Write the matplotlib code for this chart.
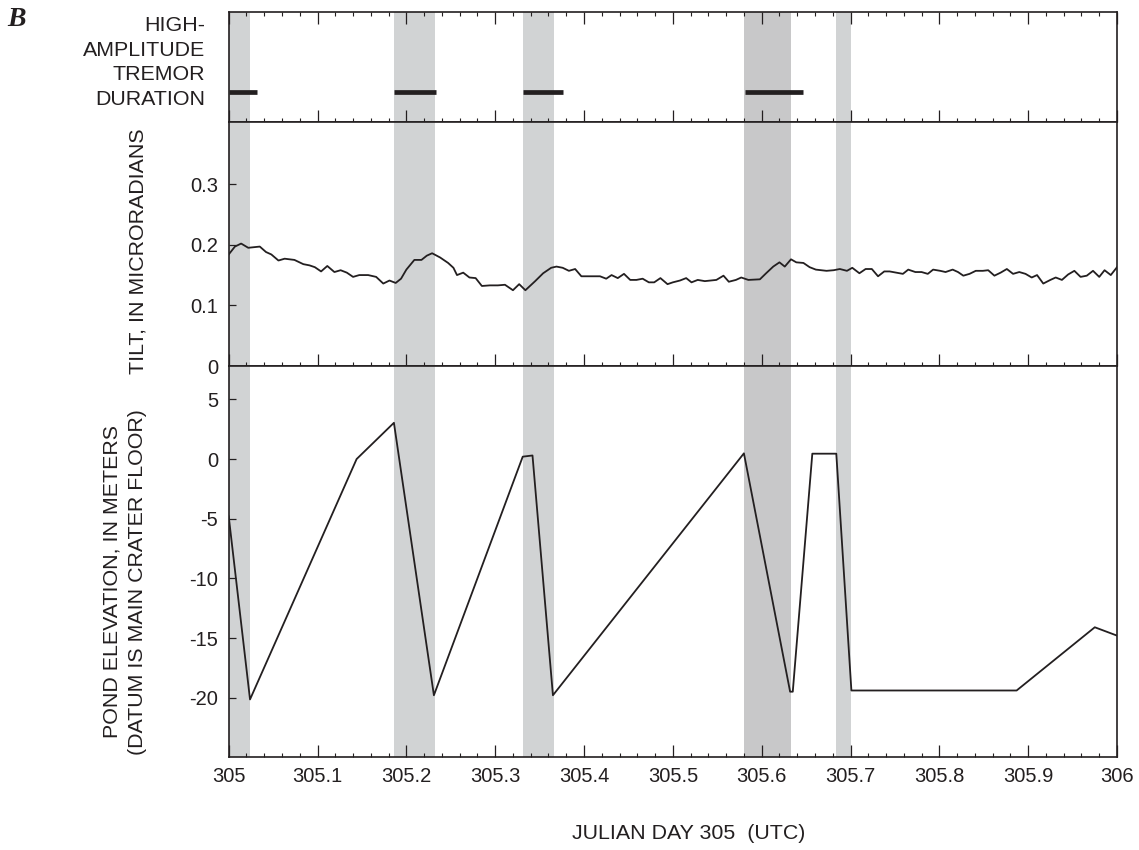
import matplotlib
matplotlib.use('Agg')
import matplotlib.pyplot as plt
from matplotlib.ticker import MultipleLocator

plt.rcParams['font.family'] = ['Liberation Sans', 'DejaVu Sans']
plt.rcParams['axes.unicode_minus'] = False

INK = '#231f20'

# gray bands (eruption episodes), julian day
band_start = [305.0, 305.186, 305.331, 305.580, 305.684]
band_end = [305.0245, 305.232, 305.366, 305.633, 305.701]
band_color = ['#d1d3d4', '#d1d3d4', '#d1d3d4', '#c8c8c9', '#d1d3d4']

# high-amplitude tremor duration bars
tremor_start = [305.0, 305.186, 305.331, 305.581]
tremor_end = [305.032, 305.233, 305.376, 305.647]

# tilt, microradians
tilt_day = [
    305.000, 305.007, 305.014, 305.022, 305.035, 305.042, 305.048, 305.056, 305.063, 305.074,
    305.084, 305.091, 305.097, 305.104, 305.111, 305.119, 305.126, 305.133, 305.140, 305.147,
    305.157, 305.166, 305.174, 305.181, 305.188, 305.194, 305.200, 305.209, 305.217, 305.223,
    305.229, 305.238, 305.247, 305.253, 305.257, 305.264, 305.271, 305.278, 305.285, 305.294,
    305.303, 305.311, 305.320, 305.327, 305.334, 305.345, 305.354, 305.363, 305.369, 305.376,
    305.383, 305.390, 305.397, 305.407, 305.418, 305.425, 305.431, 305.438, 305.445, 305.452,
    305.459, 305.466, 305.473, 305.479, 305.486, 305.494, 305.500, 305.508, 305.515, 305.521,
    305.528, 305.536, 305.549, 305.557, 305.563, 305.571, 305.577, 305.585, 305.598, 305.605,
    305.613, 305.620, 305.626, 305.633, 305.639, 305.647, 305.654, 305.661, 305.673, 305.681,
    305.688, 305.696, 305.702, 305.710, 305.717, 305.724, 305.731, 305.738, 305.744, 305.759,
    305.765, 305.773, 305.780, 305.787, 305.793, 305.801, 305.807, 305.815, 305.821, 305.827,
    305.834, 305.841, 305.849, 305.855, 305.862, 305.869, 305.876, 305.883, 305.890, 305.897,
    305.904, 305.910, 305.917, 305.925, 305.931, 305.938, 305.945, 305.952, 305.959, 305.966,
    305.973, 305.980, 305.986, 305.993, 306.000,
]
tilt_val = [
    0.184, 0.197, 0.202, 0.195, 0.197, 0.188, 0.184, 0.174, 0.177, 0.175,
    0.168, 0.166, 0.163, 0.156, 0.165, 0.155, 0.158, 0.154, 0.147, 0.150,
    0.150, 0.147, 0.136, 0.141, 0.137, 0.144, 0.159, 0.175, 0.175, 0.182,
    0.186, 0.179, 0.170, 0.162, 0.150, 0.154, 0.146, 0.145, 0.132, 0.133,
    0.133, 0.134, 0.125, 0.135, 0.125, 0.140, 0.153, 0.162, 0.164, 0.162,
    0.157, 0.160, 0.148, 0.148, 0.148, 0.144, 0.150, 0.145, 0.152, 0.142,
    0.142, 0.144, 0.138, 0.138, 0.145, 0.135, 0.138, 0.141, 0.145, 0.138,
    0.142, 0.140, 0.142, 0.149, 0.139, 0.142, 0.146, 0.142, 0.143, 0.153,
    0.164, 0.171, 0.164, 0.176, 0.171, 0.170, 0.163, 0.159, 0.157, 0.158,
    0.160, 0.157, 0.162, 0.153, 0.160, 0.160, 0.148, 0.156, 0.156, 0.152,
    0.159, 0.155, 0.155, 0.152, 0.159, 0.157, 0.155, 0.159, 0.155, 0.149,
    0.152, 0.157, 0.157, 0.158, 0.149, 0.154, 0.160, 0.152, 0.155, 0.152,
    0.146, 0.150, 0.136, 0.142, 0.146, 0.142, 0.151, 0.157, 0.147, 0.149,
    0.157, 0.147, 0.158, 0.150, 0.163,
]

# pond elevation, meters
pond_day = [305.000, 305.024, 305.144, 305.186, 305.231, 305.331, 305.342, 305.365,
            305.580, 305.632, 305.635, 305.657, 305.684, 305.701, 305.887, 305.975, 306.000]
pond_val = [-4.8, -20.15, 0.0, 3.04, -19.8, 0.2, 0.3, -19.8,
            0.48, -19.5, -19.5, 0.45, 0.45, -19.4, -19.4, -14.1, -14.8]

x_ticks = [305.0, 305.1, 305.2, 305.3, 305.4, 305.5, 305.6, 305.7, 305.8, 305.9, 306.0]
x_labels = ['305', '305.1', '305.2', '305.3', '305.4', '305.5',
            '305.6', '305.7', '305.8', '305.9', '306']
tilt_ticks = [0, 0.1, 0.2, 0.3]
tilt_labels = ['0', '0.1', '0.2', '0.3']
pond_ticks = [5, 0, -5, -10, -15, -20]
pond_labels = ['5', '0', '-5', '-10', '-15', '-20']

W, H = 1139, 850
LABEL_SIZE = 15.4
fig = plt.figure(figsize=(W / 100, H / 100), dpi=100)


def rect(x0, y0, x1, y1):
    return [x0 / W, 1 - y1 / H, (x1 - x0) / W, (y1 - y0) / H]


ax_tr = fig.add_axes(rect(228.7, 11.7, 1117, 121.7))
ax_tl = fig.add_axes(rect(228.7, 121.7, 1117, 366))
ax_pd = fig.add_axes(rect(228.7, 366, 1117, 757.3))

for ax in (ax_tr, ax_tl, ax_pd):
    for s0, s1, c in zip(band_start, band_end, band_color):
        ax.axvspan(s0, s1, color=c, lw=0, zorder=0)
    ax.set_xlim(305, 306)
    ax.xaxis.set_major_locator(MultipleLocator(0.1))
    ax.xaxis.set_minor_locator(MultipleLocator(0.02))
    ax.tick_params(axis='x', which='major', direction='in', length=8.8, width=0.9, color=INK)
    ax.tick_params(axis='x', which='minor', direction='in', length=3.1, width=0.8, color=INK)
    ax.tick_params(axis='y', direction='in', length=4.8, width=0.9, color=INK, pad=7.7,
                   labelsize=14.5, labelcolor=INK)
    for sp in ax.spines.values():
        sp.set_linewidth(1.2)
        sp.set_color(INK)

# tremor panel
for t0, t1 in zip(tremor_start, tremor_end):
    ax_tr.plot([t0, t1], [0.27, 0.27], color=INK, lw=3.4, solid_capstyle='butt', zorder=3)
ax_tr.set_ylim(0, 1)
ax_tr.set_yticks([])
ax_tr.tick_params(axis='x', which='both', top=True, bottom=True, labelbottom=False)

# tilt panel
ax_tl.plot(tilt_day, tilt_val, color=INK, lw=1.3, zorder=3)
ax_tl.set_ylim(0, 0.403)
ax_tl.set_yticks(tilt_ticks)
ax_tl.set_yticklabels(tilt_labels)
ax_tl.tick_params(axis='x', which='both', top=False, bottom=True, labelbottom=False)

# pond panel
ax_pd.plot(pond_day, pond_val, color=INK, lw=1.3, zorder=3)
ax_pd.set_ylim(-25, 7.8)
ax_pd.set_yticks(pond_ticks)
ax_pd.set_yticklabels(pond_labels)
ax_pd.set_xticks(x_ticks)
ax_pd.set_xticklabels(x_labels)
ax_pd.tick_params(axis='x', which='both', top=False, bottom=True, pad=7,
                  labelsize=14.5, labelcolor=INK)

# labels
fig.text(16.7 / W, 1 - 19.5 / H, 'B', family='Liberation Serif', weight='bold',
         style='italic', fontsize=20, ha='center', va='center', color=INK)
fig.text(205 / W, 1 - 62.5 / H, 'HIGH-\nAMPLITUDE\nTREMOR\nDURATION', ha='right',
         va='center', multialignment='right', fontsize=LABEL_SIZE, linespacing=1.38,
         color=INK)
fig.text(138 / W, 1 - 251.5 / H, 'TILT, IN MICRORADIANS', rotation=90, ha='center',
         va='center', fontsize=LABEL_SIZE, color=INK)
fig.text(125 / W, 1 - 582 / H, 'POND ELEVATION, IN METERS\n(DATUM IS MAIN CRATER FLOOR)',
         rotation=90, ha='center', va='center', multialignment='center',
         fontsize=LABEL_SIZE, linespacing=1.42, color=INK)
fig.text(689 / W, 1 - 833.5 / H, 'JULIAN DAY 305  (UTC)', ha='center', va='center',
         fontsize=LABEL_SIZE, color=INK)

fig.savefig('out.png', dpi=100)
